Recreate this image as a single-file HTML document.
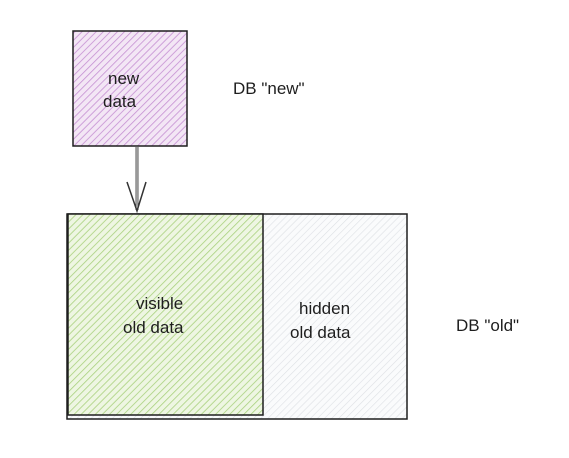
<!DOCTYPE html>
<html><head><style>
html,body{margin:0;padding:0;background:#fff;width:569px;height:458px;overflow:hidden}
text{font-family:"Comic Sans MS","Liberation Sans",sans-serif;font-size:17px;fill:#1e1e1e}
</style></head><body>
<svg width="569" height="458" viewBox="0 0 569 458">
<defs>
<pattern id="pp" width="5" height="5" patternUnits="userSpaceOnUse" patternTransform="rotate(45)">
<rect width="5" height="5" fill="#f3e6f5"/><line x1="0" y1="0" x2="0" y2="5" stroke="#c58fd2" stroke-width="1.6"/></pattern>
<pattern id="pg" width="5" height="5" patternUnits="userSpaceOnUse" patternTransform="rotate(45)">
<rect width="5" height="5" fill="#eef6e2"/><line x1="0" y1="0" x2="0" y2="5" stroke="#a9d17e" stroke-width="1.6"/></pattern>
<pattern id="pw" width="5" height="5" patternUnits="userSpaceOnUse" patternTransform="rotate(45)">
<rect width="5" height="5" fill="#fafbfc"/><line x1="0" y1="0" x2="0" y2="5" stroke="#dde0e4" stroke-width="1.2"/></pattern>
</defs>
<rect x="73" y="31" width="114" height="115" fill="url(#pp)" stroke="#1e1e1e" stroke-width="1.5"/>
<text x="108" y="84">new</text><text x="103" y="107">data</text>
<text x="233" y="94">DB "new"</text>
<line x1="137" y1="147" x2="137" y2="210" stroke="#555" stroke-width="3"/>
<line x1="137" y1="147" x2="137" y2="210" stroke="#ddd" stroke-width="1"/>
<path d="M127 182 L137 211 L146 182" fill="none" stroke="#333" stroke-width="1.5"/>
<rect x="67" y="214" width="340" height="205" fill="url(#pw)" stroke="#1e1e1e" stroke-width="1.5"/>
<rect x="68" y="214" width="195" height="201" fill="url(#pg)" stroke="#1e1e1e" stroke-width="1.5"/>
<text x="136" y="309">visible</text><text x="123" y="333">old data</text>
<text x="299" y="314">hidden</text><text x="290" y="338">old data</text>
<text x="456" y="331">DB "old"</text>
</svg>
</body></html>
